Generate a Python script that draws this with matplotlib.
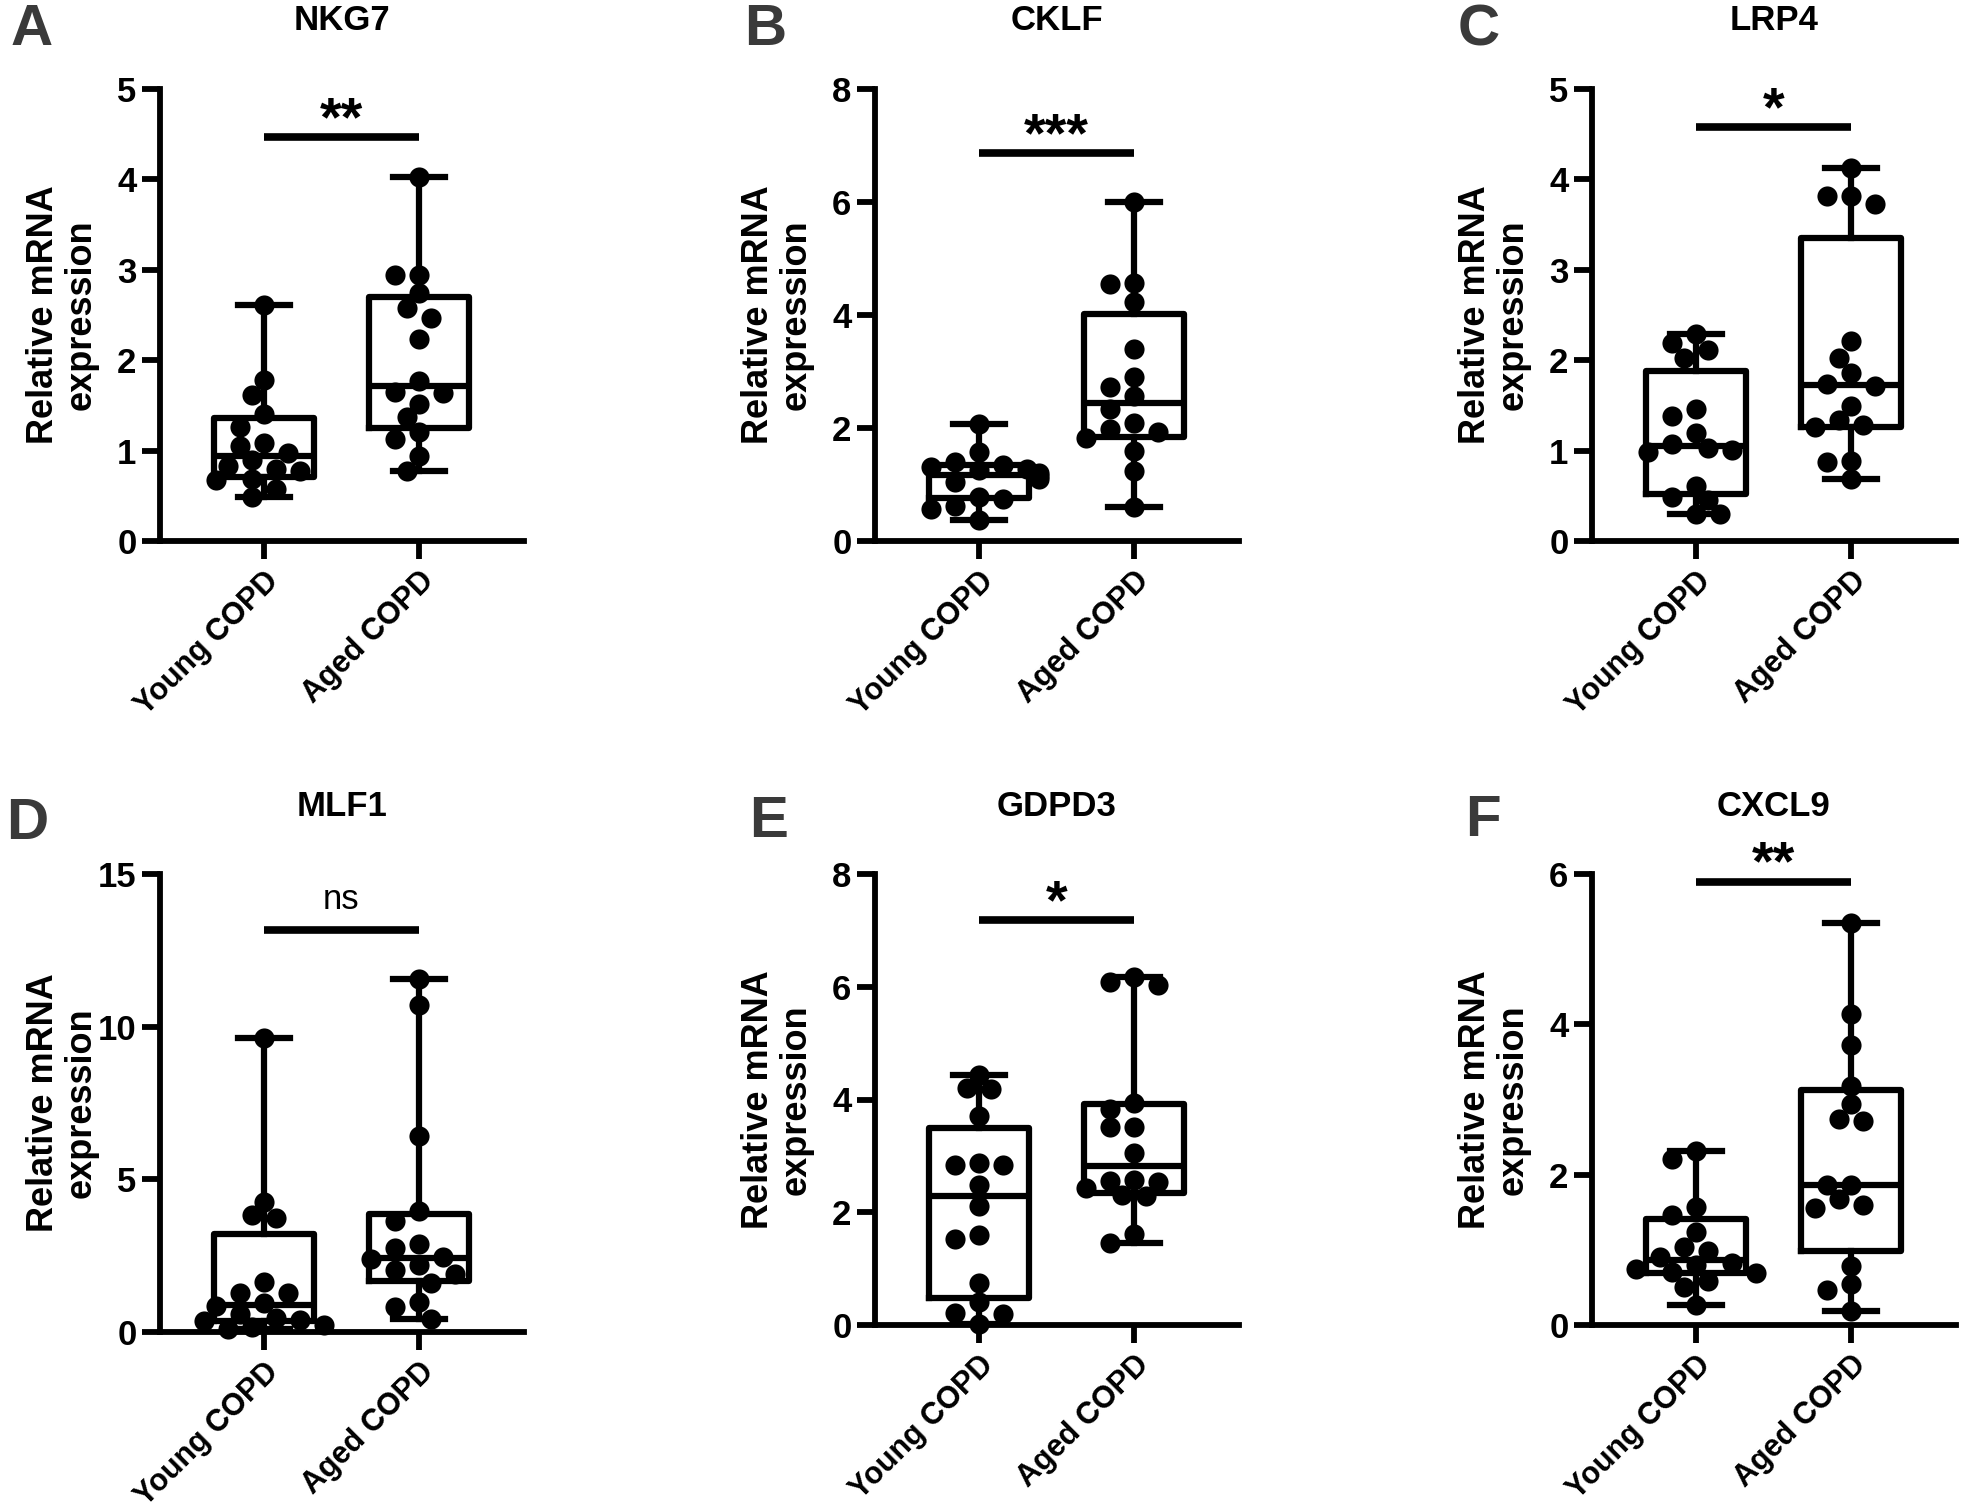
import numpy as np
import matplotlib
matplotlib.use("Agg")
import matplotlib.pyplot as plt

plt.rcParams['font.family'] = ['Liberation Sans', 'DejaVu Sans']

# valores (16 pacientes por grupo)
grupos = ['Young COPD', 'Aged COPD']
genes = ['NKG7', 'CKLF', 'LRP4', 'MLF1', 'GDPD3', 'CXCL9']
letras = ['A', 'B', 'C', 'D', 'E', 'F']

nkg7_young = [2.61, 1.78, 1.62, 1.40, 1.26, 1.08, 1.05, 0.97, 0.90, 0.83, 0.80, 0.77, 0.69, 0.67, 0.57, 0.49]
nkg7_aged = [4.03, 2.94, 2.94, 2.74, 2.58, 2.47, 2.23, 1.77, 1.65, 1.64, 1.52, 1.37, 1.21, 1.13, 0.94, 0.77]

cklf_young = [2.07, 1.58, 1.40, 1.35, 1.31, 1.28, 1.25, 1.20, 1.15, 1.10, 1.05, 0.78, 0.75, 0.62, 0.57, 0.38]
cklf_aged = [6.00, 4.56, 4.55, 4.23, 3.39, 2.90, 2.73, 2.56, 2.34, 2.08, 1.99, 1.93, 1.82, 1.60, 1.24, 0.60]

lrp4_young = [2.29, 2.19, 2.11, 2.02, 1.46, 1.38, 1.19, 1.07, 1.03, 1.01, 0.99, 0.61, 0.49, 0.45, 0.30, 0.30]
lrp4_aged = [4.13, 3.82, 3.82, 3.73, 2.21, 2.02, 1.86, 1.74, 1.72, 1.49, 1.34, 1.28, 1.26, 0.89, 0.87, 0.69]

mlf1_young = [9.63, 4.27, 3.83, 3.72, 1.64, 1.28, 1.28, 0.95, 0.85, 0.60, 0.45, 0.40, 0.36, 0.22, 0.15, 0.10]
mlf1_aged = [11.56, 10.71, 6.42, 3.95, 3.63, 2.88, 2.74, 2.46, 2.40, 2.19, 2.02, 1.91, 1.61, 0.98, 0.82, 0.44]

gdpd3_young = [4.44, 4.20, 4.19, 3.71, 2.87, 2.84, 2.83, 2.48, 2.11, 1.60, 1.53, 0.74, 0.40, 0.22, 0.19, 0.02]
gdpd3_aged = [6.18, 6.08, 6.03, 3.94, 3.84, 3.52, 3.52, 3.05, 2.58, 2.55, 2.53, 2.43, 2.31, 2.28, 1.61, 1.45]

cxcl9_young = [2.32, 2.21, 1.57, 1.46, 1.24, 1.04, 0.98, 0.91, 0.82, 0.80, 0.74, 0.71, 0.69, 0.58, 0.50, 0.26]
cxcl9_aged = [5.35, 4.14, 3.73, 3.18, 2.94, 2.74, 2.72, 1.86, 1.86, 1.68, 1.59, 1.55, 0.79, 0.54, 0.47, 0.19]

datos = [
    (nkg7_young, nkg7_aged),
    (cklf_young, cklf_aged),
    (lrp4_young, lrp4_aged),
    (mlf1_young, mlf1_aged),
    (gdpd3_young, gdpd3_aged),
    (cxcl9_young, cxcl9_aged),
]

y_max = [5, 8, 5, 15, 8, 6]
y_paso = [1, 2, 1, 5, 2, 2]
signif = ['**', '***', '*', 'ns', '*', '**']
signif_y = [4.47, 6.86, 4.58, 13.16, 7.18, 5.90]

W, H = 1965, 1509
# posicion de cada eje en pixeles: izquierda, arriba, abajo
posiciones = [
    (160, 89, 541), (875, 89, 541), (1592, 89, 541),
    (160, 874, 1332), (875, 874, 1325), (1592, 874, 1325),
]
ANCHO = 364
LW = 4.2
DIAM = 20  # px


def estadisticas(vals):
    v = np.asarray(vals)
    q1, med, q3 = np.percentile(v, [25, 50, 75], method='weibull')
    return dict(med=med, q1=q1, q3=q3, whislo=v.min(), whishi=v.max(), fliers=[])


def offsets_enjambre(ax, x0, vals):
    vals = np.asarray(vals)
    pts = ax.transData.transform(np.column_stack([np.full(len(vals), x0), vals]))
    ys = pts[:, 1]
    px_unidad = ax.transData.transform((1, 0))[0] - ax.transData.transform((0, 0))[0]
    paso = DIAM * 0.6
    offs = np.zeros(len(vals))
    colocados = []
    for i in np.argsort(-vals):
        for k in [0, -1, 1, -2, 2, -3, 3, -4, 4, -5, 5]:
            dx = k * paso
            if all((dx - px) ** 2 + (ys[i] - py) ** 2 >= (0.9 * DIAM) ** 2 for px, py in colocados):
                break
        colocados.append((dx, ys[i]))
        offs[i] = dx / px_unidad
    return offs


fig = plt.figure(figsize=(W / 100, H / 100), dpi=100)

for n in range(6):
    izq, arriba, abajo = posiciones[n]
    ax = fig.add_axes([izq / W, 1 - abajo / H, ANCHO / W, (abajo - arriba) / H])

    stats = [estadisticas(g) for g in datos[n]]
    ax.bxp(stats, positions=[1, 2], widths=0.645, showfliers=False,
           capwidths=0.335, patch_artist=False,
           boxprops=dict(linewidth=4.5, color='black'),
           medianprops=dict(linewidth=4.5, color='black'),
           whiskerprops=dict(linewidth=4.5, color='black'),
           capprops=dict(linewidth=4.5, color='black'))

    ax.set_xlim(0.33, 2.677)
    ax.set_ylim(0, y_max[n])
    ax.set_yticks(np.arange(0, y_max[n] + 0.01, y_paso[n]))
    ax.set_xticks([1, 2])
    ax.set_xticklabels(grupos, rotation=45, ha='right', va='top', rotation_mode='anchor')

    for s in ['top', 'right']:
        ax.spines[s].set_visible(False)
    for s in ['left', 'bottom']:
        ax.spines[s].set_linewidth(LW)
    ax.tick_params(width=LW, length=13)
    ax.tick_params(axis='y', labelsize=25, pad=4)
    ax.tick_params(axis='x', labelsize=22, pad=5)
    for lab in ax.get_xticklabels() + ax.get_yticklabels():
        lab.set_fontweight('bold')

    for j, vals in enumerate(datos[n]):
        off = offsets_enjambre(ax, j + 1, vals)
        ax.plot(j + 1 + off, vals, 'o', color='black', markersize=14.5,
                markeredgewidth=0, clip_on=False, zorder=4)

    # barra de significancia
    ax.plot([1, 2], [signif_y[n], signif_y[n]], color='black', linewidth=5.5,
            solid_capstyle='butt', clip_on=False)
    if signif[n] == 'ns':
        ax.text(1.5, signif_y[n] + 0.066 * y_max[n], 'ns', ha='center', va='center',
                fontsize=25, clip_on=False)
    else:
        ax.text(1.5, signif_y[n] + 0.035 * y_max[n], signif[n], ha='center', va='center',
                fontsize=40, fontweight='bold', clip_on=False)

    ax.set_ylabel('Relative mRNA\nexpression', fontsize=26, fontweight='bold',
                  linespacing=1.1)
    ax.yaxis.set_label_coords(-61 / ANCHO, 0.5)

    cx = (izq + ANCHO / 2) / W
    fig.text(cx, 1 - (arriba - 68) / H, genes[n], ha='center', va='center',
             fontsize=25, fontweight='bold')

letras_pos = [(32, 30), (765, 30), (1479, 30), (27, 824), (769, 822), (1483, 821)]
for letra, (lx, ly) in zip(letras, letras_pos):
    fig.text(lx / W, 1 - ly / H, letra, ha='center', va='center', fontsize=42,
             fontweight='bold', color='#3a3a3a')

fig.savefig('out.png', dpi=100)
